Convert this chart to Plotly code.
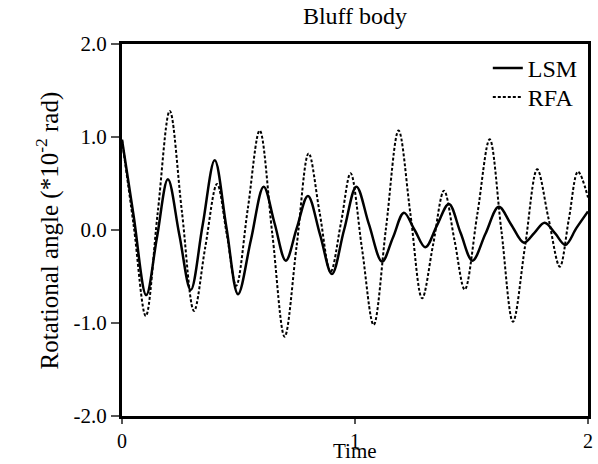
import plotly.graph_objects as go

# LSM curve (time, rotational angle *1e-2 rad)
lsm_t = [0.00, 0.05, 0.104, 0.15, 0.197, 0.246, 0.295, 0.346, 0.398, 0.448, 0.498,
         0.553, 0.608, 0.655, 0.703, 0.75, 0.798, 0.85, 0.901, 0.953, 1.006,
         1.06, 1.116, 1.163, 1.210, 1.256, 1.302, 1.352, 1.403, 1.453, 1.504,
         1.56, 1.617, 1.67, 1.725, 1.77, 1.814, 1.86, 1.903, 1.95, 2.00]
lsm_y = [0.97, 0.15, -0.70, -0.08, 0.545, -0.05, -0.645, 0.05, 0.75, 0.03, -0.69,
         -0.11, 0.466, 0.07, -0.33, 0.02, 0.366, -0.05, -0.473, 0.0, 0.466,
         0.06, -0.34, -0.08, 0.186, 0.0, -0.186, 0.05, 0.28, -0.03, -0.33,
         -0.04, 0.25, 0.06, -0.136, -0.03, 0.079, -0.04, -0.161, 0.02, 0.20]

# RFA curve
rfa_t = [0.00, 0.05, 0.102, 0.153, 0.205, 0.257, 0.309, 0.357, 0.408, 0.45, 0.49,
         0.54, 0.591, 0.645, 0.698, 0.75, 0.801, 0.848, 0.895, 0.94, 0.981,
         1.03, 1.080, 1.133, 1.187, 1.238, 1.288, 1.335, 1.382, 1.427, 1.471,
         1.525, 1.578, 1.628, 1.678, 1.73, 1.782, 1.83, 1.879, 1.918, 1.957, 2.00]
rfa_y = [0.97, 0.05, -0.925, 0.18, 1.28, 0.2, -0.87, -0.19, 0.495, -0.05, -0.6,
         0.23, 1.07, -0.04, -1.147, -0.16, 0.824, 0.19, -0.45, 0.08, 0.61,
         -0.2, -1.02, 0.02, 1.07, 0.17, -0.735, -0.16, 0.423, -0.11, -0.64,
         0.17, 0.975, 0.0, -0.986, -0.17, 0.652, 0.13, -0.394, 0.12, 0.627, 0.35]

y_ticks = [-2.0, -1.0, 0.0, 1.0, 2.0]
y_ticktext = ["-2.0", "-1.0", "0.0", "1.0", "2.0"]
x_ticks = [0, 1, 2]
x_ticktext = ["0", "1", "2"]

FONT = "Liberation Serif, Times New Roman, serif"

fig = go.Figure()
fig.add_trace(go.Scatter(x=lsm_t, y=lsm_y, name="LSM", mode="lines", legend="legend",
                         line=dict(color="black", width=2.5, shape="spline", smoothing=1.0)))
fig.add_trace(go.Scatter(x=rfa_t, y=rfa_y, name="RFA", mode="lines", legend="legend2",
                         line=dict(color="black", width=2, dash="3px,2px", shape="spline", smoothing=1.0)))

fig.update_layout(
    width=598, height=464,
    margin=dict(l=122, r=10, t=44, b=48, autoexpand=False),
    paper_bgcolor="white", plot_bgcolor="white",
    font=dict(family=FONT, size=21, color="black"),
    title=dict(text="Bluff body", x=0.5, xanchor="center", xref="paper",
               y=0.966, yanchor="middle",
               font=dict(family=FONT, size=24, color="black")),
    showlegend=True,
    legend=dict(x=0.785, xanchor="left", y=0.995, yanchor="top", bgcolor="rgba(0,0,0,0)",
                font=dict(family=FONT, size=24)),
    legend2=dict(x=0.785, xanchor="left", y=0.917, yanchor="top", bgcolor="rgba(0,0,0,0)",
                 font=dict(family=FONT, size=24)),
    annotations=[
        dict(text="Time", xref="paper", yref="paper", x=0.5, y=-0.094,
             xanchor="center", yanchor="middle", showarrow=False,
             font=dict(family=FONT, size=21, color="black")),
        dict(text="Rotational angle (*10<sup>-2</sup> rad)", xref="paper", yref="paper",
             x=-0.16, y=0.5, xanchor="center", yanchor="middle", textangle=-90,
             showarrow=False, font=dict(family=FONT, size=25, color="black")),
    ],
)
fig.update_xaxes(range=[0, 2], tickvals=x_ticks, ticktext=x_ticktext, automargin=False,
                 showline=True, linecolor="black", linewidth=3, mirror=True,
                 ticks="outside", ticklen=5, tickwidth=1.5, tickcolor="#555",
                 showgrid=False, zeroline=False,
                 tickfont=dict(family=FONT, size=20))
fig.update_yaxes(range=[-2, 2], tickvals=y_ticks, ticktext=y_ticktext, automargin=False,
                 showline=True, linecolor="black", linewidth=3, mirror=True,
                 ticks="outside", ticklen=8, tickwidth=1.5, tickcolor="#555",
                 showgrid=False, zeroline=False,
                 tickfont=dict(family=FONT, size=21))

fig.write_html("out.html", config={"displayModeBar": False},
               post_script="document.body.style.margin='0';document.body.style.overflow='hidden';")
